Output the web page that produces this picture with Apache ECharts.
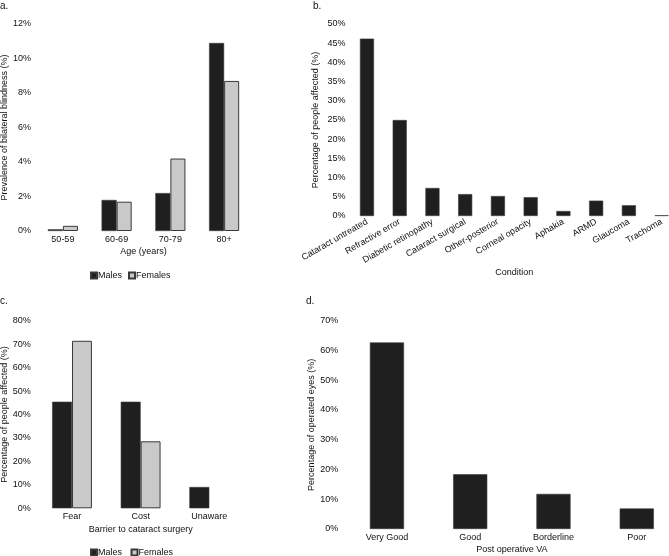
<!DOCTYPE html>
<html><head><meta charset="utf-8">
<script src="https://cdn.jsdelivr.net/npm/echarts@6/dist/echarts.min.js"></script>
<style>html,body{margin:0;padding:0;background:#fff}#c{width:669px;height:556px}</style>
</head><body><div id="c"></div>
<script>
// Panel a
const ageGroups = ['50-59','60-69','70-79','80+'];
const blindMales = [0.1, 1.8, 2.2, 10.9];
const blindFemales = [0.3, 1.7, 4.2, 8.7];
const aTicks = {max: 12, interval: 2};
// Panel b
const conditions = ['Cataract untreated','Refractive error','Diabetic retinopathy','Cataract surgical','Other-posterior','Corneal opacity','Aphakia','ARMD','Glaucoma','Trachoma'];
const conditionPct = [46.2, 25.0, 7.3, 5.7, 5.2, 4.9, 1.3, 4.0, 2.8, 0.2];
const bTicks = {max: 50, interval: 5};
// Panel c
const barriers = ['Fear','Cost','Unaware'];
const barrierMales = [45.45, 45.45, 9.09];
const barrierFemales = [71.43, 28.57, 0];
const cTicks = {max: 80, interval: 10};
// Panel d
const vaCats = ['Very Good','Good','Borderline','Poor'];
const vaPct = [62.7, 18.4, 11.8, 6.9];
const dTicks = {max: 70, interval: 10};

const FONT = "'Liberation Sans', Arial, sans-serif";
const DARK = '#1f1f1f', LIGHT = '#c9c9c9';
const txt = {fontFamily: FONT, fontSize: 9, color: '#111'};

function yAx(gi, t, name, gap, margin){
  return {gridIndex: gi, type:'value', min:0, max:t.max, interval:t.interval,
    axisLine:{show:false}, axisTick:{show:false}, splitLine:{show:false},
    axisLabel:Object.assign({formatter:'{value}%', margin:margin}, txt),
    name:name, nameLocation:'middle', nameGap:gap, nameTextStyle:Object.assign({}, txt)};
}
function xAx(gi, cats, name, gap, extra){
  return {gridIndex: gi, type:'category', data:cats,
    axisLine:{show:false}, axisTick:{show:false},
    axisLabel:Object.assign({margin:4, interval:0}, txt, extra||{}),
    name:name, nameLocation:'middle', nameGap:gap, nameTextStyle:Object.assign({}, txt)};
}
function zeroless(arr){ return arr.map(v => v === 0 ? {value:0, itemStyle:{borderWidth:0, color:'transparent'}} : v); }

const darkStyle = {color: DARK, borderColor:'#3a3a3a', borderWidth:0.6};
const lightStyle = {color: LIGHT, borderColor:'#3a3a3a', borderWidth:1};
const titleStyle = {fontFamily:FONT, fontSize:10, fontWeight:'normal', color:'#111'};

const chart = echarts.init(document.getElementById('c'), null, {renderer:'canvas'});
chart.setOption({
  animation:false,
  textStyle:{fontFamily:FONT},
  title:[
    {text:'a.', left:0, top:1, padding:0, textStyle:titleStyle},
    {text:'b.', left:313, top:1, padding:0, textStyle:titleStyle},
    {text:'c.', left:0, top:296, padding:0, textStyle:titleStyle},
    {text:'d.', left:306, top:296, padding:0, textStyle:titleStyle}
  ],
  legend:[
    {data:['Males','Females'], left:90, top:271, padding:0, itemWidth:6, itemHeight:6, itemGap:6, icon:'rect',
      textStyle:Object.assign({padding:[0,0,0,-4]}, txt)},
    {data:['Males ','Females '], left:90, top:548, padding:0, itemWidth:6, itemHeight:6, itemGap:6, icon:'rect',
      textStyle:Object.assign({padding:[0,0,0,-4]}, txt)}
  ],
  grid:[
    {left:36, right:418, top:24, bottom:325, outerBoundsMode:'none'},
    {left:350.6, right:-9, top:24, bottom:340, outerBoundsMode:'none'},
    {left:37.7, right:425.4, top:320.7, bottom:47.7, outerBoundsMode:'none'},
    {left:345.3, right:-9.4, top:320.7, bottom:27, outerBoundsMode:'none'}
  ],
  xAxis:[
    xAx(0, ageGroups, 'Age (years)', 16),
    xAx(1, conditions, 'Condition', 52, {rotate:30, margin:5}),
    xAx(2, barriers, 'Barrier to cataract surgery', 17),
    xAx(3, vaCats, 'Post operative VA', 16)
  ],
  yAxis:[
    yAx(0, aTicks, 'Prevalence of bilateral blindness (%)', 27, 5),
    yAx(1, bTicks, 'Percentage of people affected (%)', 31, 5),
    yAx(2, cTicks, 'Percentage of people affected (%)', 28, 7),
    yAx(3, dTicks, 'Percentage of operated eyes (%)', 27, 7)
  ],
  series:[
    {name:'Males', type:'bar', xAxisIndex:0, yAxisIndex:0, data:blindMales, itemStyle:darkStyle, barGap:'0%', barCategoryGap:'44%'},
    {name:'Females', type:'bar', xAxisIndex:0, yAxisIndex:0, data:blindFemales, itemStyle:lightStyle, barGap:'0%', barCategoryGap:'44%'},
    {name:'Condition', type:'bar', xAxisIndex:1, yAxisIndex:1, data:conditionPct, itemStyle:darkStyle, barCategoryGap:'57%'},
    {name:'Males ', type:'bar', xAxisIndex:2, yAxisIndex:2, data:zeroless(barrierMales), itemStyle:darkStyle, barGap:'0%', barCategoryGap:'42%'},
    {name:'Females ', type:'bar', xAxisIndex:2, yAxisIndex:2, data:zeroless(barrierFemales), itemStyle:lightStyle, barGap:'0%', barCategoryGap:'42%'},
    {name:'VA', type:'bar', xAxisIndex:3, yAxisIndex:3, data:vaPct, itemStyle:darkStyle, barCategoryGap:'59%'}
  ]
});
</script></body></html>
